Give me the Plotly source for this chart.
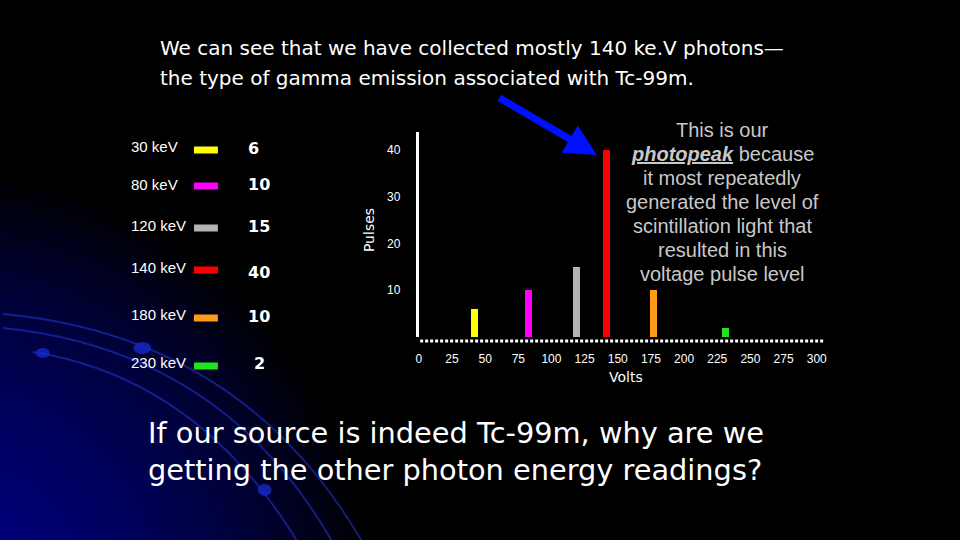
import plotly.graph_objects as go

# data
energies = ['30 keV', '80 keV', '120 keV', '140 keV', '180 keV', '230 keV']
pulses = [6, 10, 15, 40, 10, 2]
volts = [42, 82.5, 118.5, 141, 177, 231]
colors = ['#ffff00', '#ff00ff', '#b4b4b4', '#ff0000', '#ff9a1a', '#1ee61e']
xticks = [0, 25, 50, 75, 100, 125, 150, 175, 200, 225, 250, 275, 300]
yticks = [10, 20, 30, 40]

title_lines = ['We can see that we have collected mostly 140 ke.V photons\u2014',
               'the type of gamma emission associated with Tc-99m.']
question_lines = ['If our source is indeed Tc-99m, why are we',
                  'getting the other photon energy readings?']
note_lines = ['This is our', '<b><i><u>photopeak</u></i></b> because', 'it most repeatedly',
              'generated the level of', 'scintillation light that', 'resulted in this',
              'voltage pulse level']

W, H = 960, 540
FONT = 'Liberation Sans, Arial, sans-serif'
TAHOMA = 'DejaVu Sans, Verdana, sans-serif'


def px(x):
    return x / W


def py(y):
    return 1 - y / H


fig = go.Figure()
fig.add_trace(go.Bar(
    x=volts, y=pulses, width=5.3,
    marker=dict(color=colors, line=dict(width=0)),
    showlegend=False,
))

shapes = []
# background glow in bottom-left corner
cx, cy = -60, 600
for i in range(30):
    r = 420 - i * 12
    shapes.append(dict(type='circle', xref='paper', yref='paper',
                       x0=px(cx - r), x1=px(cx + r), y0=py(cy + r), y1=py(cy - r),
                       fillcolor='#0a10c0', opacity=0.035, line=dict(width=0),
                       layer='below'))


def qpath(p0, c, p2):
    return 'M {} {} Q {} {} {} {}'.format(px(p0[0]), py(p0[1]), px(c[0]), py(c[1]),
                                          px(p2[0]), py(p2[1]))


arcs = [((0, 314), (240, 336), (360, 540)),
        ((0, 328), (220, 350), (330, 540)),
        ((30, 352), (195, 378), (295, 540))]
for a in arcs:
    shapes.append(dict(type='path', xref='paper', yref='paper', path=qpath(*a),
                       line=dict(color='rgba(40,60,230,0.5)', width=2), layer='below'))
for (dx, dy, rx, ry) in [(140, 348, 9, 6), (40, 353, 7, 5), (263, 490, 7, 6)]:
    shapes.append(dict(type='circle', xref='paper', yref='paper',
                       x0=px(dx - rx), x1=px(dx + rx), y0=py(dy + ry), y1=py(dy - ry),
                       fillcolor='rgba(20,40,200,0.8)', line=dict(width=0), layer='below'))

# dotted baseline, just under the plot area
shapes.append(dict(type='line', xref='x', yref='paper', x0=1, x1=306,
                   y0=py(341), y1=py(341),
                   line=dict(color='white', width=3, dash='3px,2px')))

annotations = []
# legend
label_y = [147, 184, 225, 267, 314, 362]
swatch_y = [150, 186, 228, 270, 318, 366]
value_y = [148, 184, 226, 272, 316, 363]
value_x = [252, 257, 257, 257, 257, 258]
for i, lab in enumerate(energies):
    annotations.append(dict(x=px(127), y=py(label_y[i]), xref='paper', yref='paper',
                            text=lab, showarrow=False, xanchor='left', yanchor='middle',
                            font=dict(family=FONT, size=15, color='white')))
    shapes.append(dict(type='rect', xref='paper', yref='paper',
                       x0=px(192), x1=px(216), y0=py(swatch_y[i] + 3.5), y1=py(swatch_y[i] - 3.5),
                       fillcolor=colors[i], line=dict(width=0)))
    annotations.append(dict(x=px(value_x[i]), y=py(value_y[i]), xref='paper', yref='paper',
                            text='<b>%d</b>' % pulses[i], showarrow=False,
                            xanchor='center', yanchor='middle',
                            font=dict(family=TAHOMA, size=16, color='white')))

for i, t in enumerate(title_lines):
    annotations.append(dict(x=px(156), y=py(48 + 30 * i), xref='paper', yref='paper',
                            xanchor='left', yanchor='middle', showarrow=False, text=t,
                            font=dict(family=TAHOMA, size=20, color='white')))
for i, t in enumerate(question_lines):
    annotations.append(dict(x=px(144), y=py(433 + 37 * i), xref='paper', yref='paper',
                            xanchor='left', yanchor='middle', showarrow=False, text=t,
                            font=dict(family=TAHOMA, size=28.8, color='white')))
for i, t in enumerate(note_lines):
    annotations.append(dict(x=px(723), y=py(130 + 24 * i), xref='paper', yref='paper',
                            xanchor='center', yanchor='middle', showarrow=False, text=t,
                            font=dict(family=FONT, size=20, color='#c8c8c8')))

annotations += [
    dict(x=px(368), y=py(230), xref='paper', yref='paper', text='Pulses', textangle=-90,
         showarrow=False, font=dict(family=TAHOMA, size=14, color='white')),
    dict(x=px(645), y=py(387), xref='paper', yref='paper', text='Volts',
         showarrow=False, font=dict(family=TAHOMA, size=14, color='white')),
    dict(x=px(597), y=py(155), xref='paper', yref='paper', text='', showarrow=True,
         ax=-99, ay=-58, arrowcolor='#0010ff', arrowwidth=7, arrowhead=2, arrowsize=0.9),
]

fig.update_layout(
    width=W, height=H,
    margin=dict(l=0, r=0, t=0, b=0),
    paper_bgcolor='black', plot_bgcolor='rgba(0,0,0,0)',
    shapes=shapes, annotations=annotations,
    bargap=0,
    xaxis=dict(domain=[px(418), px(826)], range=[0, 306], tickvals=xticks,
               showgrid=False, zeroline=False, showline=False, ticks='',
               ticklabelstandoff=13,
               tickfont=dict(family=FONT, size=12, color='white')),
    yaxis=dict(domain=[py(337), py(132)], range=[0, 43.85], tickvals=yticks,
               showgrid=False, zeroline=False, showline=True, linecolor='white',
               linewidth=3, ticks='', ticklabelstandoff=13,
               tickfont=dict(family=FONT, size=12, color='white')),
)

fig.write_html('out.html', config=dict(displayModeBar=False),
               post_script="document.body.style.margin='0';")
